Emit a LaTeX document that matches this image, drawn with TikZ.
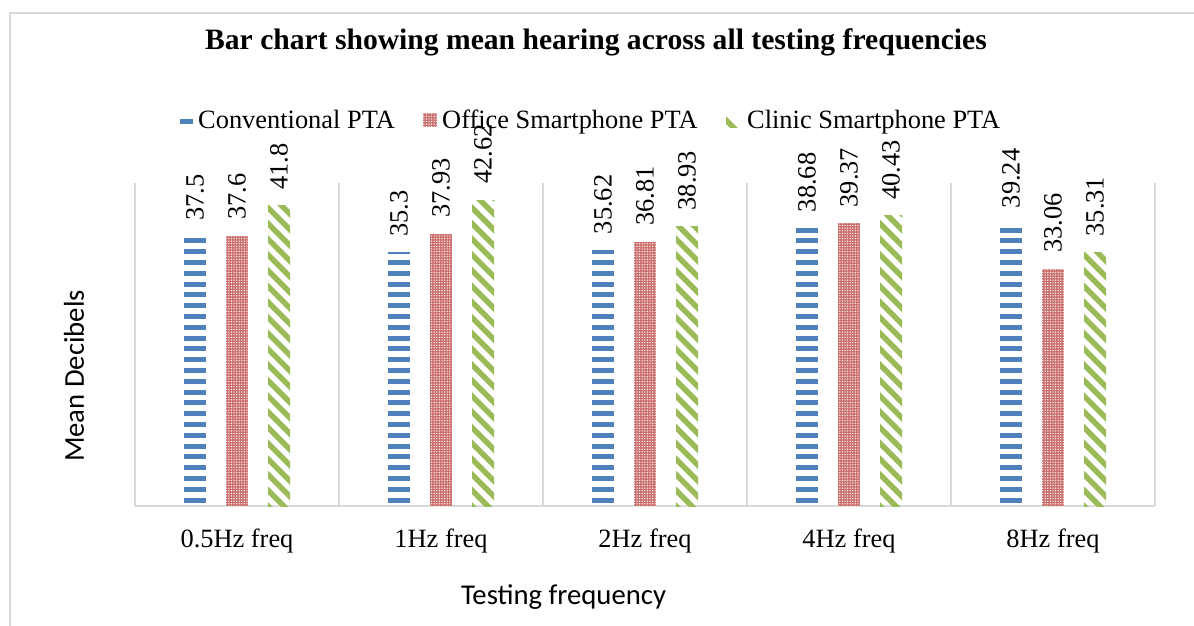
\documentclass[tikz,border=0pt]{standalone}
\usepackage{fontspec}
\setmainfont{Liberation Serif}
\newfontfamily\axisfont{Carlito}
\usetikzlibrary{patterns.meta}

\definecolor{framegray}{HTML}{D9D9D9}
\definecolor{convblue}{HTML}{4F81BD}
\definecolor{officered}{HTML}{C0504D}
\definecolor{clinicgreen}{HTML}{9BBB59}

% one unit = one pixel, y grows downwards
\tikzset{
  chartframe/.style={draw=framegray, line width=1.7pt},
  gridrule/.style={draw=framegray, line width=1.3pt},
  charttitle/.style={font=\fontsize{29.6}{32}\selectfont\bfseries, inner sep=0pt},
  legendtext/.style={font=\fontsize{26.4}{28}\selectfont, inner sep=0pt, anchor=base west},
  cattext/.style={font=\fontsize{26.4}{28}\selectfont, inner sep=0pt, anchor=base},
  valtext/.style={font=\fontsize{26.4}{28}\selectfont, inner sep=0pt, rotate=90, anchor=west},
  axistitle/.style={font=\axisfont\fontsize{28.7}{30}\selectfont, inner sep=0pt},
  officefill/.style={fill=officered!82},
  officedots/.style={pattern={Dots[distance=2.6pt,radius=0.7pt]}, pattern color=white},
}

\newcounter{barcount}
% bar macros: #1 = bar centre x, #2 = value
\newcommand\convbar[2]{%
  \pgfmathsetmacro\bartop{506-#2*323/45}
  \begin{scope}
    \clip (#1-11,\bartop) rectangle (#1+11,506);
    \foreach \k in {0,...,40}
      \fill[convblue] (#1-11,500-10.8*\k-2.5) rectangle (#1+11,500-10.8*\k+2.5);
  \end{scope}
  \node[valtext] (v\the\value{barcount}) at (#1,\bartop-16) {#2};
  \stepcounter{barcount}}
\newcommand\officebar[2]{%
  \pgfmathsetmacro\bartop{506-#2*323/45}
  \fill[officefill] (#1-11,\bartop) rectangle (#1+11,506);
  \fill[officedots] (#1-11,\bartop) rectangle (#1+11,506);
  \node[valtext] (v\the\value{barcount}) at (#1,\bartop-16) {#2};
  \stepcounter{barcount}}
\newcommand\clinicbar[2]{%
  \pgfmathsetmacro\bartop{506-#2*323/45}
  \begin{scope}
    \clip (#1-11,\bartop) rectangle (#1+11,506);
    \foreach \k in {-1,...,22}
      \draw[clinicgreen, line width=5.5pt] (#1-16,506-15.7*\k-5) -- ++(32,32);
  \end{scope}
  \node[valtext] (v\the\value{barcount}) at (#1,\bartop-16) {#2};
  \stepcounter{barcount}}

\begin{document}
\begin{tikzpicture}[x=1pt,y=-1pt]
\useasboundingbox (0,0) rectangle (1194,626);

% outer chart frame (runs off the right and bottom edges)
\draw[chartframe] (10,630) -- (10,13) -- (1200,13);

% title
\node[charttitle, anchor=base] (title) at (596,50)
  {Bar chart showing mean hearing across all testing frequencies};

% legend
\fill[convblue] (180,118.5) rectangle (193,123.5);
\node[legendtext] (legconv) at (198,128) {Conventional PTA};
\fill[officefill] (423,113) rectangle (437,127);
\fill[officedots] (423,113) rectangle (437,127);
\node[legendtext] (legoffice) at (442,128) {Office Smartphone PTA};
\begin{scope}
  \clip (726,113) rectangle (740,127);
  \draw[clinicgreen, line width=5.5pt] (714,108) -- ++(24,24);
\end{scope}
\node[legendtext] (legclinic) at (747,128) {Clinic Smartphone PTA};

% category gridlines and axis
\foreach \gx in {135,339,543,747,951,1155}
  \draw[gridrule] (\gx,183) -- (\gx,506);
\draw[gridrule] (135,506) -- (1155,506);

% bars
\convbar{195}{37.5}   \officebar{237}{37.6}   \clinicbar{279}{41.8}
\convbar{399}{35.3}   \officebar{441}{37.93}  \clinicbar{483}{42.62}
\convbar{603}{35.62}  \officebar{645}{36.81}  \clinicbar{687}{38.93}
\convbar{807}{38.68}  \officebar{849}{39.37}  \clinicbar{891}{40.43}
\convbar{1011}{39.24} \officebar{1053}{33.06} \clinicbar{1095}{35.31}

% category labels
\node[cattext] (c1) at (237,547) {0.5Hz freq};
\node[cattext] (c2) at (441,547) {1Hz freq};
\node[cattext] (c3) at (645,547) {2Hz freq};
\node[cattext] (c4) at (849,547) {4Hz freq};
\node[cattext] (c5) at (1053,547) {8Hz freq};

% axis titles
\node[axistitle, rotate=90] (ytitle) at (74,376) {Mean Decibels};
\node[axistitle, anchor=base] (xtitle) at (563.5,604) {Testing frequency};
\end{tikzpicture}
\end{document}
